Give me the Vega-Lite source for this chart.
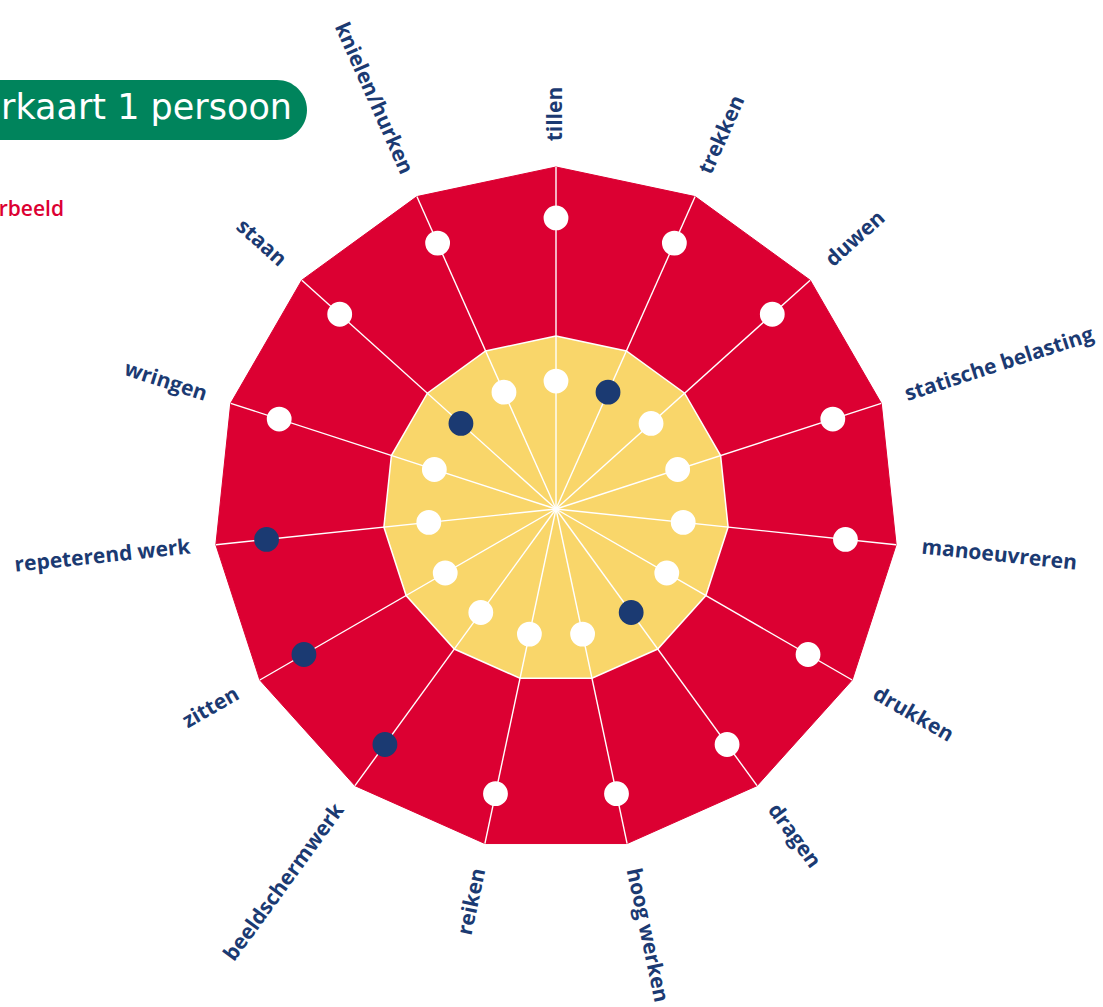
{
  "$schema": "https://vega.github.io/schema/vega-lite/v6.json",
  "width": 1103,
  "height": 1007,
  "autosize": {"type": "none"},
  "padding": 0,
  "background": "white",
  "config": {"view": {"stroke": null}},
  "datasets": {
    "vlakken": [
      {"vlak": "buiten", "hoek": 0, "r": 1},
      {"vlak": "buiten", "hoek": 24, "r": 1},
      {"vlak": "buiten", "hoek": 48, "r": 1},
      {"vlak": "buiten", "hoek": 72, "r": 1},
      {"vlak": "buiten", "hoek": 96, "r": 1},
      {"vlak": "buiten", "hoek": 120, "r": 1},
      {"vlak": "buiten", "hoek": 144, "r": 1},
      {"vlak": "buiten", "hoek": 168, "r": 1},
      {"vlak": "buiten", "hoek": 192, "r": 1},
      {"vlak": "buiten", "hoek": 216, "r": 1},
      {"vlak": "buiten", "hoek": 240, "r": 1},
      {"vlak": "buiten", "hoek": 264, "r": 1},
      {"vlak": "buiten", "hoek": 288, "r": 1},
      {"vlak": "buiten", "hoek": 312, "r": 1},
      {"vlak": "buiten", "hoek": 336, "r": 1},
      {"vlak": "buiten", "hoek": 360, "r": 1},
      {"vlak": "binnen", "hoek": 0, "r": 0.506},
      {"vlak": "binnen", "hoek": 24, "r": 0.506},
      {"vlak": "binnen", "hoek": 48, "r": 0.506},
      {"vlak": "binnen", "hoek": 72, "r": 0.506},
      {"vlak": "binnen", "hoek": 96, "r": 0.506},
      {"vlak": "binnen", "hoek": 120, "r": 0.506},
      {"vlak": "binnen", "hoek": 144, "r": 0.506},
      {"vlak": "binnen", "hoek": 168, "r": 0.506},
      {"vlak": "binnen", "hoek": 192, "r": 0.506},
      {"vlak": "binnen", "hoek": 216, "r": 0.506},
      {"vlak": "binnen", "hoek": 240, "r": 0.506},
      {"vlak": "binnen", "hoek": 264, "r": 0.506},
      {"vlak": "binnen", "hoek": 288, "r": 0.506},
      {"vlak": "binnen", "hoek": 312, "r": 0.506},
      {"vlak": "binnen", "hoek": 336, "r": 0.506},
      {"vlak": "binnen", "hoek": 360, "r": 0.506}
    ],
    "categorieen": [
      {"categorie": "tillen", "hoek": 0},
      {"categorie": "trekken", "hoek": 24},
      {"categorie": "duwen", "hoek": 48},
      {"categorie": "statische belasting", "hoek": 72},
      {"categorie": "manoeuvreren", "hoek": 96},
      {"categorie": "drukken", "hoek": 120},
      {"categorie": "dragen", "hoek": 144},
      {"categorie": "hoog werken", "hoek": 168},
      {"categorie": "reiken", "hoek": 192},
      {"categorie": "beeldschermwerk", "hoek": 216},
      {"categorie": "zitten", "hoek": 240},
      {"categorie": "repeterend werk", "hoek": 264},
      {"categorie": "wringen", "hoek": 288},
      {"categorie": "staan", "hoek": 312},
      {"categorie": "knielen/hurken", "hoek": 336}
    ],
    "punten": [
      {"categorie": "tillen", "hoek": 0, "ring": "binnen", "r": 0.374, "status": "open"},
      {"categorie": "trekken", "hoek": 24, "ring": "binnen", "r": 0.374, "status": "gemarkeerd"},
      {"categorie": "duwen", "hoek": 48, "ring": "binnen", "r": 0.374, "status": "open"},
      {"categorie": "statische belasting", "hoek": 72, "ring": "binnen", "r": 0.374, "status": "open"},
      {"categorie": "manoeuvreren", "hoek": 96, "ring": "binnen", "r": 0.374, "status": "open"},
      {"categorie": "drukken", "hoek": 120, "ring": "binnen", "r": 0.374, "status": "open"},
      {"categorie": "dragen", "hoek": 144, "ring": "binnen", "r": 0.374, "status": "gemarkeerd"},
      {"categorie": "hoog werken", "hoek": 168, "ring": "binnen", "r": 0.374, "status": "open"},
      {"categorie": "reiken", "hoek": 192, "ring": "binnen", "r": 0.374, "status": "open"},
      {"categorie": "beeldschermwerk", "hoek": 216, "ring": "binnen", "r": 0.374, "status": "open"},
      {"categorie": "zitten", "hoek": 240, "ring": "binnen", "r": 0.374, "status": "open"},
      {"categorie": "repeterend werk", "hoek": 264, "ring": "binnen", "r": 0.374, "status": "open"},
      {"categorie": "wringen", "hoek": 288, "ring": "binnen", "r": 0.374, "status": "open"},
      {"categorie": "staan", "hoek": 312, "ring": "binnen", "r": 0.374, "status": "gemarkeerd"},
      {"categorie": "knielen/hurken", "hoek": 336, "ring": "binnen", "r": 0.374, "status": "open"},
      {"categorie": "tillen", "hoek": 0, "ring": "buiten", "r": 0.851, "status": "open"},
      {"categorie": "trekken", "hoek": 24, "ring": "buiten", "r": 0.851, "status": "open"},
      {"categorie": "duwen", "hoek": 48, "ring": "buiten", "r": 0.851, "status": "open"},
      {"categorie": "statische belasting", "hoek": 72, "ring": "buiten", "r": 0.851, "status": "open"},
      {"categorie": "manoeuvreren", "hoek": 96, "ring": "buiten", "r": 0.851, "status": "open"},
      {"categorie": "drukken", "hoek": 120, "ring": "buiten", "r": 0.851, "status": "open"},
      {"categorie": "dragen", "hoek": 144, "ring": "buiten", "r": 0.851, "status": "open"},
      {"categorie": "hoog werken", "hoek": 168, "ring": "buiten", "r": 0.851, "status": "open"},
      {"categorie": "reiken", "hoek": 192, "ring": "buiten", "r": 0.851, "status": "open"},
      {"categorie": "beeldschermwerk", "hoek": 216, "ring": "buiten", "r": 0.851, "status": "gemarkeerd"},
      {"categorie": "zitten", "hoek": 240, "ring": "buiten", "r": 0.851, "status": "gemarkeerd"},
      {"categorie": "repeterend werk", "hoek": 264, "ring": "buiten", "r": 0.851, "status": "gemarkeerd"},
      {"categorie": "wringen", "hoek": 288, "ring": "buiten", "r": 0.851, "status": "open"},
      {"categorie": "staan", "hoek": 312, "ring": "buiten", "r": 0.851, "status": "open"},
      {"categorie": "knielen/hurken", "hoek": 336, "ring": "buiten", "r": 0.851, "status": "open"}
    ]
  },
  "encoding": {
    "x": {"field": "x", "type": "quantitative", "axis": null, "scale": {"domain": [-1.6257, 1.5994], "nice": false, "zero": false}},
    "y": {"field": "y", "type": "quantitative", "axis": null, "scale": {"domain": [-1.4561, 1.4883], "nice": false, "zero": false}}
  },
  "layer": [
    {
      "data": {"name": "vlakken"},
      "transform": [
        {"filter": "datum.vlak === 'buiten'"},
        {"calculate": "datum.r * sin(datum.hoek * PI / 180)", "as": "x"},
        {"calculate": "datum.r * cos(datum.hoek * PI / 180)", "as": "y"}
      ],
      "mark": {"type": "line", "fill": "#DC0032", "stroke": "#DC0032", "strokeWidth": 1},
      "encoding": {
        "order": {"field": "hoek", "type": "quantitative"}
      }
    },
    {
      "data": {"name": "vlakken"},
      "transform": [
        {"filter": "datum.vlak === 'binnen'"},
        {"calculate": "datum.r * sin(datum.hoek * PI / 180)", "as": "x"},
        {"calculate": "datum.r * cos(datum.hoek * PI / 180)", "as": "y"}
      ],
      "mark": {"type": "line", "fill": "#F9D66A", "stroke": "white", "strokeWidth": 1.5},
      "encoding": {
        "order": {"field": "hoek", "type": "quantitative"}
      }
    },
    {
      "data": {"name": "categorieen"},
      "transform": [
        {"calculate": "0", "as": "x"},
        {"calculate": "0", "as": "y"},
        {"calculate": "sin(datum.hoek * PI / 180)", "as": "x2"},
        {"calculate": "cos(datum.hoek * PI / 180)", "as": "y2"}
      ],
      "mark": {"type": "rule", "color": "white", "strokeWidth": 1.4},
      "encoding": {
        "x2": {"field": "x2"},
        "y2": {"field": "y2"}
      }
    },
    {
      "data": {"name": "punten"},
      "transform": [
        {"calculate": "datum.r * sin(datum.hoek * PI / 180)", "as": "x"},
        {"calculate": "datum.r * cos(datum.hoek * PI / 180)", "as": "y"}
      ],
      "mark": {"type": "circle", "size": 616, "opacity": 1},
      "encoding": {
        "color": {"field": "status", "type": "nominal", "legend": null, "scale": {"domain": ["open", "gemarkeerd"], "range": ["#FFFFFF", "#1B3A72"]}}
      }
    },
    {
      "data": {"name": "categorieen"},
      "transform": [
        {"filter": "datum.hoek < 180"},
        {"calculate": "1.075 * sin(datum.hoek * PI / 180)", "as": "x"},
        {"calculate": "1.075 * cos(datum.hoek * PI / 180)", "as": "y"},
        {"calculate": "datum.hoek - 90", "as": "rot"}
      ],
      "mark": {"type": "text", "align": "left", "baseline": "middle", "font": "Open Sans", "fontWeight": "bold", "fontSize": 21, "color": "#1B3A72"},
      "encoding": {
        "angle": {"field": "rot", "type": "quantitative", "scale": null},
        "text": {"field": "categorie", "type": "nominal"}
      }
    },
    {
      "data": {"name": "categorieen"},
      "transform": [
        {"filter": "datum.hoek >= 180"},
        {"calculate": "1.075 * sin(datum.hoek * PI / 180)", "as": "x"},
        {"calculate": "1.075 * cos(datum.hoek * PI / 180)", "as": "y"},
        {"calculate": "datum.hoek - 270", "as": "rot"}
      ],
      "mark": {"type": "text", "align": "right", "baseline": "middle", "font": "Open Sans", "fontWeight": "bold", "fontSize": 21, "color": "#1B3A72"},
      "encoding": {
        "angle": {"field": "rot", "type": "quantitative", "scale": null},
        "text": {"field": "categorie", "type": "nominal"}
      }
    },
    {
      "data": {"values": [{"titel": "Kleurkaart 1 persoon"}]},
      "transform": [
        {"calculate": "-2.2", "as": "x"},
        {"calculate": "-0.7281", "as": "x2"},
        {"calculate": "1.2544", "as": "y"},
        {"calculate": "1.0789", "as": "y2"}
      ],
      "mark": {"type": "rect", "color": "#00845C", "cornerRadius": 30},
      "encoding": {
        "x2": {"field": "x2"},
        "y2": {"field": "y2"}
      }
    },
    {
      "data": {"values": [{"titel": "Kleurkaart 1 persoon"}]},
      "transform": [
        {"calculate": "-0.7719", "as": "x"},
        {"calculate": "1.1389", "as": "y"}
      ],
      "mark": {"type": "text", "align": "right", "baseline": "alphabetic", "font": "DejaVu Sans", "fontSize": 35, "color": "white"},
      "encoding": {
        "text": {"field": "titel", "type": "nominal"}
      }
    },
    {
      "data": {"values": [{"label": "Voorbeeld"}]},
      "transform": [
        {"calculate": "-1.4386", "as": "x"},
        {"calculate": "0.8567", "as": "y"}
      ],
      "mark": {"type": "text", "align": "right", "baseline": "alphabetic", "font": "Open Sans", "fontWeight": 600, "fontSize": 21, "color": "#DC0032"},
      "encoding": {
        "text": {"field": "label", "type": "nominal"}
      }
    }
  ]
}
